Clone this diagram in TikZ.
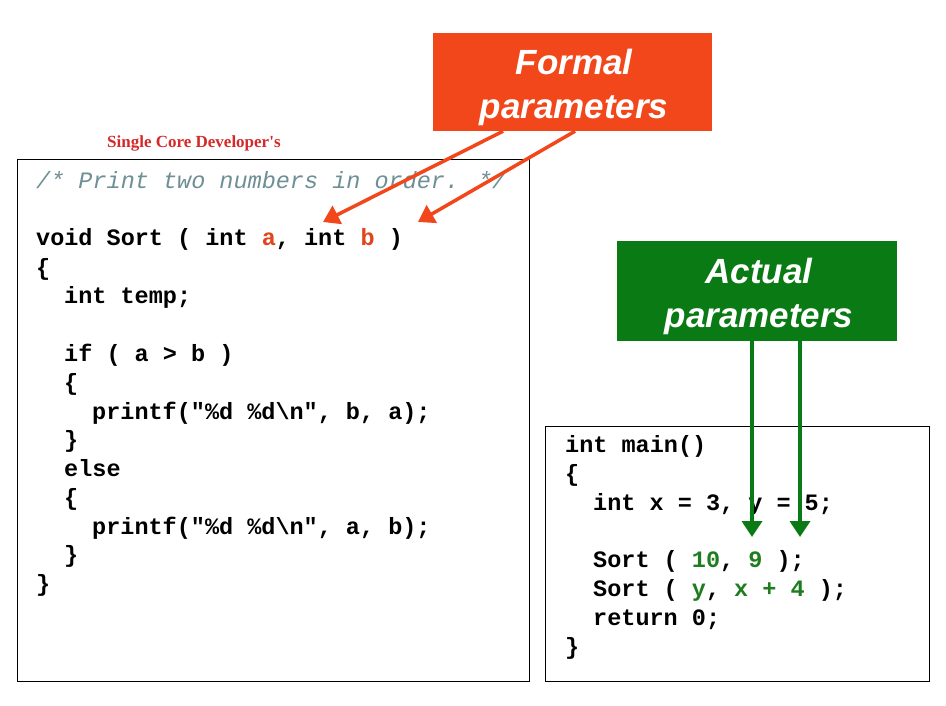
\documentclass[tikz,border=0pt]{standalone}
\usepackage{fontspec}
\setmainfont{Liberation Sans}
\newfontfamily\codef{Liberation Mono}
\newfontfamily\serf{Liberation Serif}
\usetikzlibrary{arrows.meta}
\definecolor{fred}{HTML}{F2461B}
\definecolor{agreen}{HTML}{0A7A14}
\definecolor{cred}{HTML}{E0451E}
\definecolor{cgreen}{HTML}{1E7D1E}
\definecolor{cmt}{HTML}{6E8F96}
\definecolor{lab}{HTML}{D42A2A}
\begin{document}
\begin{tikzpicture}[x=1pt,y=-1pt,
  cl/.style={anchor=base west,inner sep=0pt,font=\codef\bfseries\fontsize{23.5}{28}\selectfont},
  cmtl/.style={anchor=base west,inner sep=0pt,font=\codef\itshape\fontsize{23.5}{28}\selectfont,text=cmt},
  box/.style={draw=black,line width=1pt},
  tagbox/.style={inner sep=0pt},
  tag/.style={inner sep=0pt,text=white,font=\bfseries\itshape\fontsize{35}{44}\selectfont,align=center},
  arr/.style={line width=3.5pt,-{Triangle[length=16pt,width=20pt]}}]
\useasboundingbox (0,0) rectangle (946,706);
\fill[white] (0,0) rectangle (946,706);
\draw[box] (17,160) rectangle (529,681);
\draw[box] (545,426) rectangle (929,681);
\node[anchor=base west,inner sep=0pt,text=lab,font=\serf\bfseries\fontsize{17}{19}\selectfont] (lbl) at (107,148) {Single Core Developer's};
% left code
\node[cmtl] (c0) at (36,189) {/* Print two numbers in order. */};
\node[cl] (c1) at (36,246) {void Sort ( int \textcolor{cred}{a}, int \textcolor{cred}{b} )};
\node[cl] (c2) at (36,275) {\{};
\node[cl] (c3) at (64,303) {int temp;};
\node[cl] (c4) at (64,361) {if ( a > b )};
\node[cl] (c5) at (64,390) {\{};
\node[cl] (c6) at (92,419) {printf("\%d \%d\textbackslash n", b, a);};
\node[cl] (c7) at (64,447) {\}};
\node[cl] (c8) at (64,476) {else};
\node[cl] (c9) at (64,505) {\{};
\node[cl] (c10) at (92,534) {printf("\%d \%d\textbackslash n", a, b);};
\node[cl] (c11) at (64,562) {\}};
\node[cl] (c12) at (36,591) {\}};
% right code
\node[cl] (m1) at (565,452) {int main()};
\node[cl] (m2) at (565,481) {\{};
\node[cl] (m3) at (593,510) {int x = 3, y = 5;};
\node[cl] (m4) at (593,567) {Sort ( \textcolor{cgreen}{10}, \textcolor{cgreen}{9} );};
\node[cl] (m5) at (593,596) {Sort ( \textcolor{cgreen}{y}, \textcolor{cgreen}{x + 4} );};
\node[cl] (m6) at (593,625) {return 0;};
\node[cl] (m7) at (565,654) {\}};
% tags
\node[fill=fred,minimum width=279pt,minimum height=98pt,tagbox] (formal) at (572.5,82) {};
\node[tag] (formalt) at (574,87) {Formal\\parameters};
\node[fill=agreen,minimum width=280pt,minimum height=100pt,tagbox] (actual) at (757,291) {};
\node[tag] (actualt) at (759,296) {Actual\\parameters};
\coordinate (fa) at (323,222);
\coordinate (fb) at (418,222);
\coordinate (aa) at (752,537);
\coordinate (ab) at (800,537);
\draw[arr,fred] ([xshift=-69.5pt]formal.south) -- (fa);
\draw[arr,fred] ([xshift=2.5pt]formal.south) -- (fb);
\draw[arr,agreen] ([xshift=-5pt]actual.south) -- (aa);
\draw[arr,agreen] ([xshift=43pt]actual.south) -- (ab);
\end{tikzpicture}
\end{document}
